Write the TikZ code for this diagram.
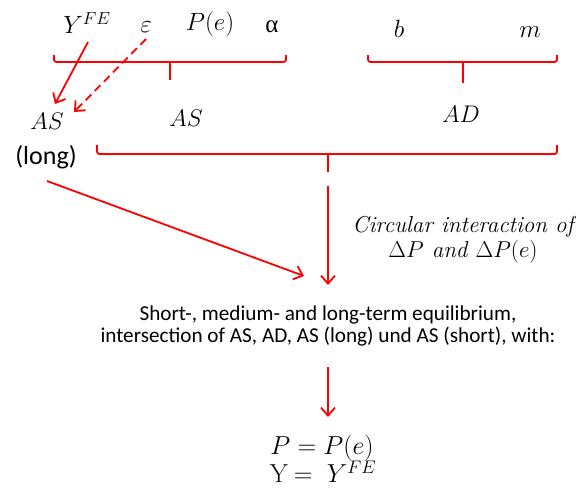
\RequirePackage{fix-cm}
\documentclass[tikz,border=0pt]{standalone}
\usepackage[no-math]{fontspec}
\setmainfont{Carlito}
\newfontfamily\grk{Liberation Serif}
\usetikzlibrary{arrows.meta}
\definecolor{lred}{RGB}{255,0,0}
\newcommand{\lmit}{\fontfamily{lmr}\selectfont\itshape}
\newcommand{\lmup}{\fontfamily{lmr}\selectfont\upshape}
\begin{document}
\begin{tikzpicture}[x=1pt,y=-1pt,
  lbl/.style={inner sep=0pt, font=\fontsize{24}{26}\selectfont},
  toplbl/.style={inner sep=0pt, font=\fontsize{25}{26}\selectfont},
  txt/.style={inner sep=0pt, align=center, anchor=north, font=\fontsize{21.2}{22}\selectfont},
  brk/.style={draw=lred, line width=1.8pt, rounded corners=2.5pt},
  arr/.style={draw=lred, line width=1.8pt, -{Straight Barb[length=8pt,width=14pt,line width=1.8pt]}},
  darr/.style={arr, dash pattern=on 8pt off 5pt}]
\useasboundingbox (0,0) rectangle (576,490);
% top labels
\node[toplbl] (yfe) at (87,23) {$Y^{FE}$};
\node[toplbl] (eps) at (146,27) {$\varepsilon$};
\node[toplbl] (pe) at (210,24) {$P(e)$};
\node[toplbl, font=\fontsize{25}{26}\selectfont\grk] (alpha) at (272,27) {α};
\node[toplbl] (b) at (399,29) {$b$};
\node[toplbl] (m) at (530,32) {$m$};
% middle labels
\node[lbl] (aslong) at (47,121) {$AS$};
\node[inner sep=0pt, font=\fontsize{26}{26}\selectfont] (longlbl) at (46,157) {(long)};
\node[lbl] (as) at (186,118) {$AS$};
\node[lbl] (ad) at (461,114) {$AD$};
% brackets
\coordinate (b1l) at (54,55); \coordinate (b1r) at (286,55); \coordinate (b1m) at (170,62); \coordinate (b1t) at (170,80);
\draw[brk] (b1l) -- (54,62) -- (286,62) -- (b1r);
\draw[brk] (b1m) -- (b1t);
\coordinate (b2l) at (368,55); \coordinate (b2r) at (557,55); \coordinate (b2m) at (463,62); \coordinate (b2t) at (463,83);
\draw[brk] (b2l) -- (368,62) -- (557,62) -- (b2r);
\draw[brk] (b2m) -- (b2t);
\coordinate (b3l) at (97,145); \coordinate (b3r) at (557,145); \coordinate (b3m) at (328,154); \coordinate (b3t) at (328,172);
\draw[brk] (b3l) -- (97,154) -- (557,154) -- (b3r);
\draw[brk] (b3m) -- (b3t);
% arrows to AS (long)
\coordinate (ys) at (88,42); \coordinate (ye) at (55,104);
\draw[arr] (ys) -- (ye);
\coordinate (es) at (146,39); \coordinate (ee) at (74,112);
\draw[darr] (es) -- (ee);
% main arrows
\coordinate (ms) at (328,186); \coordinate (me) at (328,285);
\draw[arr] (ms) -- (me);
\coordinate (ds) at (47,181); \coordinate (de) at (304,276);
\draw[arr] (ds) -- (de);
% circular interaction
\node[inner sep=0pt, align=center, font=\fontsize{23}{25}\selectfont\lmit] (circ) at (463,240)
  {Circular interaction of\\ $\Delta P$ and $\Delta P(e)$};
% bottom text
\node[txt] (eq) at (328,306) {Short-, medium- and long-term equilibrium,\\ intersection of AS, AD, AS (long) und AS (short), with:};
\coordinate (ls) at (328,367); \coordinate (le) at (328,417);
\draw[arr] (ls) -- (le);
\node[lbl, font=\fontsize{26}{26}\selectfont] (res1) at (322,448) {$P = P(e)$};
\node[lbl, font=\fontsize{26}{26}\selectfont] (res2) at (323,472) {{\lmup Y} $=\; Y^{FE}$};
\end{tikzpicture}
\end{document}
